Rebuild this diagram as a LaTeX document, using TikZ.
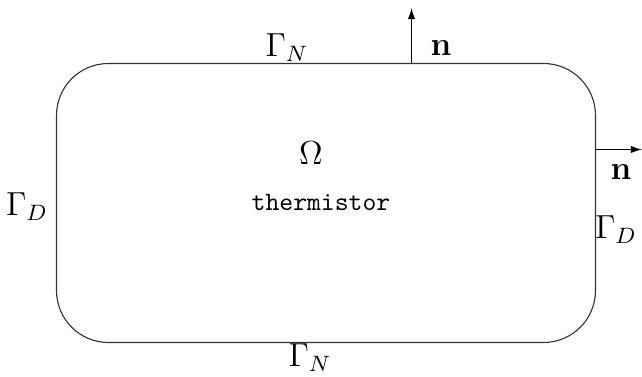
\documentclass[tikz,border=0pt]{standalone}
\usetikzlibrary{arrows.meta}
\begin{document}
\begin{tikzpicture}[x=0.36pt, y=-0.36pt,
	lbl/.style = {inner sep=0pt, font=\fontsize{11.5}{14}\selectfont},
	normal/.style = {-{Latex[length=4pt,width=2.6pt]}, thin}]
	\useasboundingbox (0,0) rectangle (642,377);
	\draw[thin, black!80, rounded corners=18.7pt] (56.5,63.5) rectangle (595.5,342.5);
	\coordinate (ntop) at (411.5,63.5);
	\coordinate (ntopend) at (411.5,8);
	\coordinate (nright) at (595.5,149.5);
	\coordinate (nrightend) at (642,149.5);
	\draw[normal] (ntop) -- (ntopend);
	\draw[normal] (nright) -- (nrightend);
	\node[lbl] (gntop) at (287,48) {$\Gamma_N$};
	\node[lbl] (gnbot) at (310,358) {$\Gamma_N$};
	\node[lbl] (gdleft) at (27,207) {$\Gamma_D$};
	\node[lbl] (gdright) at (616,230) {$\Gamma_D$};
	\node[lbl] (ntxt) at (441,48) {$\mathbf{n}$};
	\node[lbl] (nrtxt) at (621,172) {$\mathbf{n}$};
	\node[lbl] (omega) at (311,153) {$\Omega$};
	\node[inner sep=0pt] (therm) at (321,203) {\fontsize{9.5}{12}\selectfont\texttt{thermistor}};
\end{tikzpicture}
\end{document}
